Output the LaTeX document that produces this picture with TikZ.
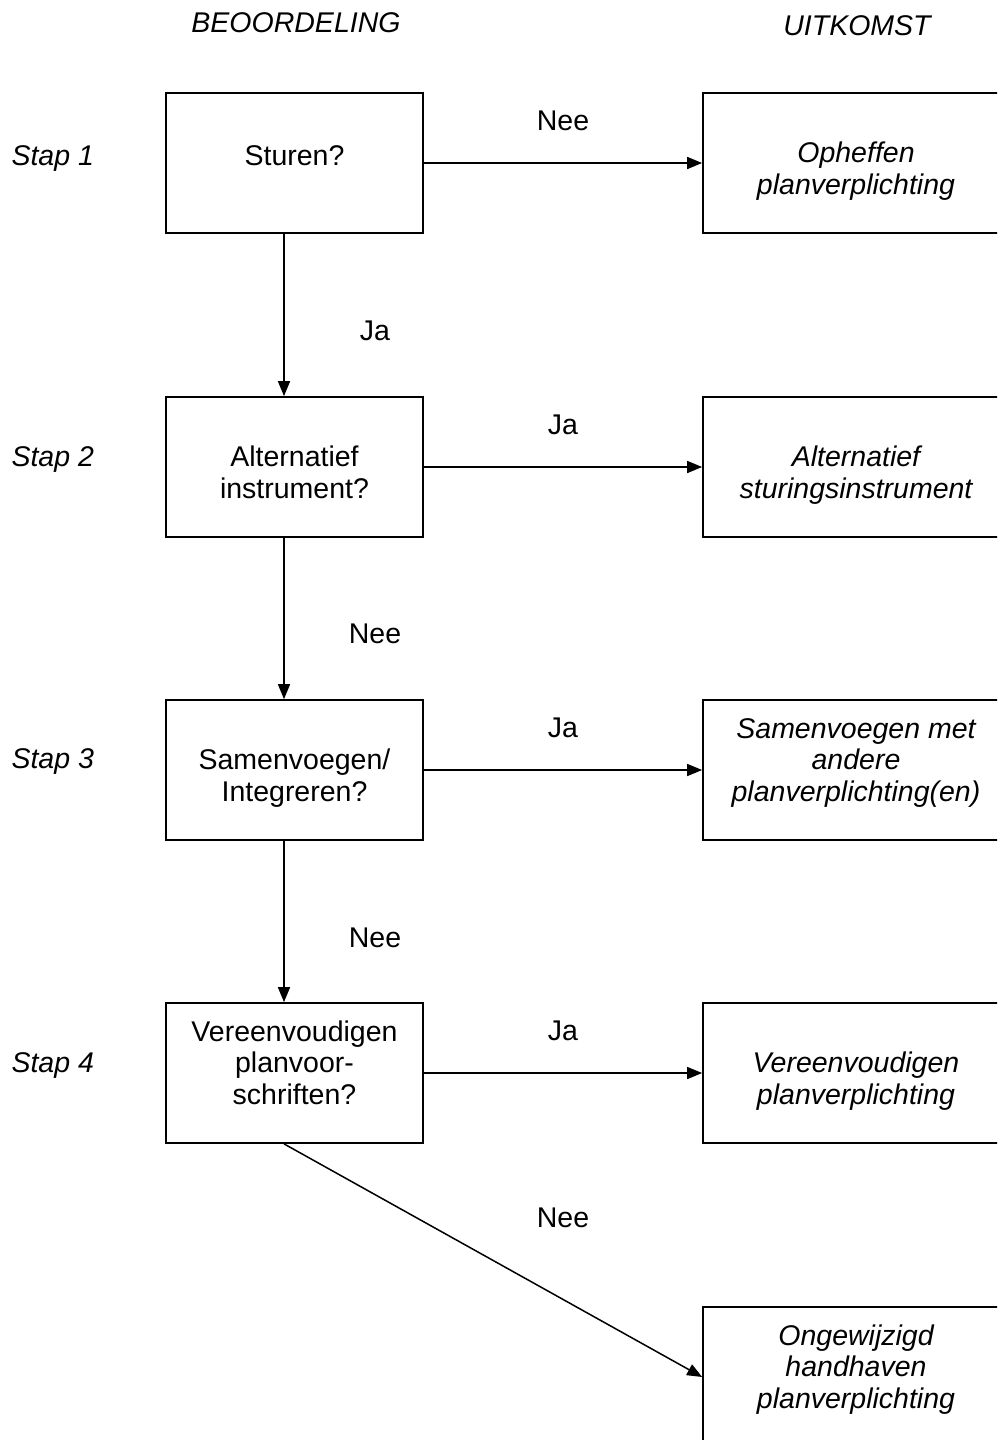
\documentclass[tikz,border=0pt]{standalone}
\usepackage{fontspec}
\setmainfont{Liberation Sans}
\usetikzlibrary{arrows.meta}
\newcommand\boxtext[2]{\raisebox{#1}[0pt][0pt]{\begin{tabular}{@{}c@{}}#2\end{tabular}}}
\begin{document}
\begin{tikzpicture}[x=1pt,y=-1pt,
  every node/.style={font=\fontsize{28.5}{31.5}\selectfont},
  itext/.style={font=\fontsize{28.5}{31.5}\selectfont\itshape},
  qbox/.style={draw,line width=1.7pt,minimum width=257pt,minimum height=140pt,inner sep=0pt},
  obox/.style={draw,line width=1.7pt,minimum width=306pt,minimum height=140pt,inner sep=0pt,itext},
  lbl/.style={anchor=base},
  conn/.style={line width=1.5pt,-{Triangle[length=15pt,width=12pt]}}]
\useasboundingbox (0,0) rectangle (997,1440);
\begin{scope}
\clip (0,0) rectangle (997,1440);
\node[itext,anchor=base] (h1) at (296,32) {BEOORDELING};
\node[itext,anchor=base] (h2) at (857,35) {UITKOMST};
\node[itext,anchor=base west] (s1) at (8,165) {Stap 1};
\node[itext,anchor=base west] (s2) at (8,466) {Stap 2};
\node[itext,anchor=base west] (s3) at (8,768) {Stap 3};
\node[itext,anchor=base west] (s4) at (8,1072) {Stap 4};

\node[qbox] (q1) at (294.5,163) {\boxtext{-2.6pt}{Sturen?}};
\node[qbox] (q2) at (294.5,467) {\boxtext{-15.6pt}{Alternatief\\instrument?}};
\node[qbox] (q3) at (294.5,770) {\boxtext{-15.6pt}{Samenvoegen/\\Integreren?}};
\node[qbox] (q4) at (294.5,1073) {\boxtext{0.4pt}{Vereenvoudigen\\planvoor-\\schriften?}};

\node[obox] (o1) at (856,163) {\boxtext{-15.6pt}{Opheffen\\planverplichting}};
\node[obox] (o2) at (856,467) {\boxtext{-15.6pt}{Alternatief\\sturingsinstrument}};
\node[obox] (o3) at (856,770) {\boxtext{0.4pt}{Samenvoegen met\\andere\\planverplichting(en)}};
\node[obox] (o4) at (856,1073) {\boxtext{-15.6pt}{Vereenvoudigen\\planverplichting}};
\node[obox] (o5) at (856,1377) {\boxtext{0.4pt}{Ongewijzigd\\handhaven\\planverplichting}};

\draw[conn] (q1) -- (o1);
\draw[conn] (q2) -- (o2);
\draw[conn] (q3) -- (o3);
\draw[conn] (q4) -- (o4);
\draw[conn] ([xshift=-10.5pt]q1.south) -- ([xshift=-10.5pt]q2.north);
\draw[conn] ([xshift=-10.5pt]q2.south) -- ([xshift=-10.5pt]q3.north);
\draw[conn] ([xshift=-10.5pt]q3.south) -- ([xshift=-10.5pt]q4.north);
\draw[conn] ([xshift=-10.5pt]q4.south) -- (o5.west);

\node[lbl] (l1) at (563,130) {Nee};
\node[lbl] (l2) at (375,340) {Ja};
\node[lbl] (l3) at (563,434) {Ja};
\node[lbl] (l4) at (375,643) {Nee};
\node[lbl] (l5) at (563,737) {Ja};
\node[lbl] (l6) at (375,947) {Nee};
\node[lbl] (l7) at (563,1040) {Ja};
\node[lbl] (l8) at (563,1227) {Nee};
\end{scope}
\end{tikzpicture}
\end{document}
